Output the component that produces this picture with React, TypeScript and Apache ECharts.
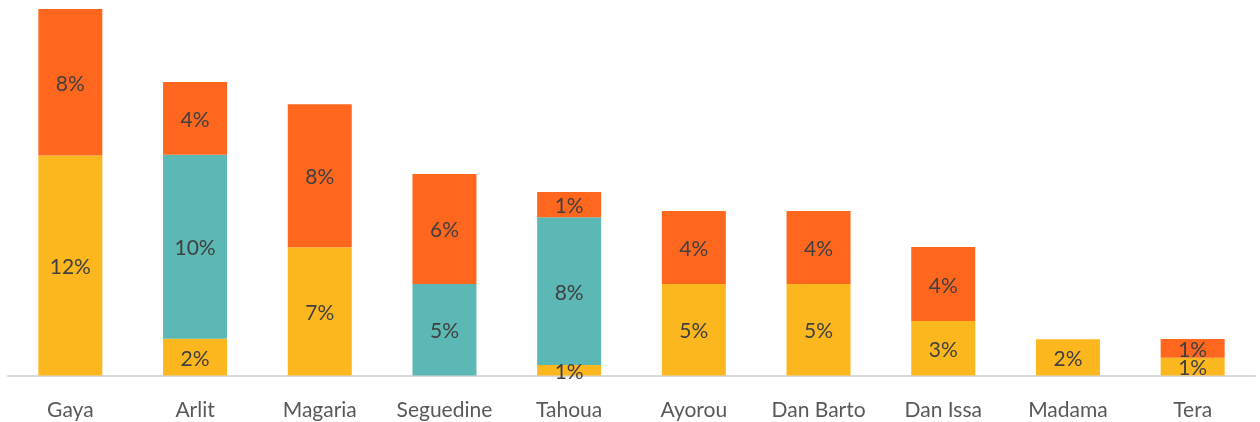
import React, { useEffect, useRef } from "react";
import * as echarts from "echarts";

const categories = ["Gaya", "Arlit", "Magaria", "Seguedine", "Tahoua", "Ayorou", "Dan Barto", "Dan Issa", "Madama", "Tera"];
const yellowValues = [12.0, 2.0, 7.0, null, 0.57, 5.0, 5.0, 2.97, 1.98, 0.97];
const tealValues = [null, 10.04, null, 5.0, 8.06, null, null, null, null, null];
const orangeValues = [8.0, 3.97, 7.8, 6.0, 1.38, 3.98, 3.98, 4.04, null, 1.02];
const seriesNames = ["Série 1", "Série 2", "Série 3"];
const colors = ["#FDB71E", "#5BB8B4", "#FF671F"];

const FONT = "Lato, 'Open Sans', sans-serif";

export default function App() {
  const ref = useRef<HTMLDivElement>(null);
  useEffect(() => {
    if (!ref.current) return;
    const chart = echarts.init(ref.current, undefined, { renderer: "svg" });
    const label = {
      show: true,
      position: "inside" as const,
      color: "#404040",
      fontSize: 21,
      fontFamily: FONT,
      formatter: (p: any) => (p.value == null ? "" : Math.round(p.value) + "%"),
    };
    const mk = (name: string, data: (number | null)[], color: string) => ({
      name,
      type: "bar" as const,
      stack: "total",
      data,
      barWidth: 64,
      itemStyle: { color },
      label,
    });
    chart.setOption({
      animation: false,
      grid: { left: 8, right: 5, top: 9, bottom: 46.5, containLabel: false },
      xAxis: {
        type: "category",
        data: categories,
        axisLine: { show: true, lineStyle: { color: "#D9D9D9", width: 2 } },
        axisTick: { show: false },
        axisLabel: { color: "#595959", fontSize: 21, fontFamily: FONT, margin: 22 },
      },
      yAxis: {
        type: "value",
        min: 0,
        max: 20,
        show: false,
        splitLine: { show: false },
      },
      series: [
        mk(seriesNames[0], yellowValues, colors[0]),
        mk(seriesNames[1], tealValues, colors[1]),
        mk(seriesNames[2], orangeValues, colors[2]),
      ],
    });
    return () => chart.dispose();
  }, []);
  return <div ref={ref} style={{ position: "fixed", left: 0, top: 0, width: 1260, height: 422 }} />;
}
